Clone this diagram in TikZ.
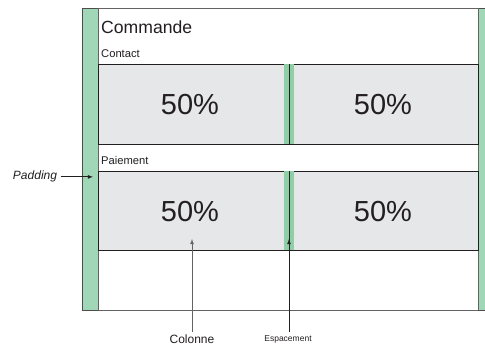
\documentclass[tikz,border=0pt]{standalone}
\usepackage{fontspec}
\setmainfont{Liberation Sans}
\usepackage{xcolor}
\definecolor{g1}{HTML}{A0D7B7}
\definecolor{g2}{HTML}{8FCFA8}
\definecolor{c1}{HTML}{E6E7E8}
\definecolor{k1}{HTML}{231F20}

\begin{document}
\begin{tikzpicture} [x = 1pt, y = -1pt, text = k1,
	pct/.style = {anchor = base, inner sep = 0pt, font = \fontsize{29}{30}\selectfont},
	caption/.style = {anchor = base west, inner sep = 0pt, font = \fontsize{11.2}{13}\selectfont}]
\clip (0,0) rectangle (485,347);
\fill [white] (0,0) rectangle (485,347);

% frame and padding:
\draw [draw = k1!80, fill = g1, line width = .8pt] (82,8) rectangle (500,310);
\draw [draw = k1!70, fill = white, line width = .8pt] (98,8) rectangle (478,310);

% rows:
\draw [draw = k1, fill = c1, line width = .8pt] (98,64) rectangle (478,144);
\draw [draw = k1, fill = c1, line width = .8pt] (98,171) rectangle (478,250);

% gutters:
\foreach \ya/\yb in {64/144, 171/250} {
	\fill [g2] (284,\ya+.4) rectangle (294,\yb-.4);
	\draw [draw = k1, line width = .8pt] (289,\ya) -- (289,\yb);
}

% texts:
\node [anchor = base west, inner sep = 0pt, font = \fontsize{17.6}{19}\selectfont] (title) at (101,33.3) {Commande};
\node [caption] (contact) at (101,57.3) {Contact};
\node [caption] (paiement) at (101,165) {Paiement};

\node [pct] (c11) at (190,115) {50\%};
\node [pct] (c12) at (383,115) {50\%};
\node [pct] (c21) at (190,221.7) {50\%};
\node [pct] (c22) at (383,221.7) {50\%};

% labels and arrows:
\node [anchor = base, font = \fontsize{12}{14}\selectfont\itshape] (padding) at (35,180) {Padding};
\node [anchor = base, font = \fontsize{12}{14}\selectfont] (colonne) at (192,344) {Colonne};
\node [anchor = base, font = \fontsize{8.5}{10}\selectfont] (espacement) at (288,341.7) {Espacement};

\coordinate (padtip) at (93,176);
\coordinate (coltip) at (192,239);
\coordinate (esptip) at (289,239);

\draw [-latex, draw = k1, line width = .8pt] (padding.east) -- (padding.east -| padtip);
\draw [-latex, draw = k1!70, line width = .8pt] (colonne.north) -- (coltip);
\draw [-latex, draw = k1, line width = .8pt] (espacement.north -| esptip) -- (esptip);
\end{tikzpicture}
\end{document}
